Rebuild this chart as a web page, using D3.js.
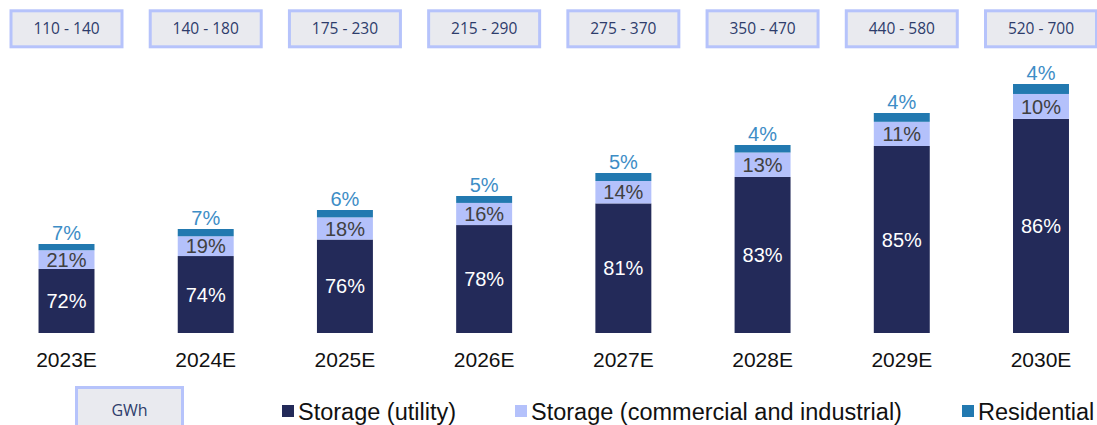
<!DOCTYPE html>
<html>
<head>
<meta charset="utf-8">
<script src="https://cdn.jsdelivr.net/npm/d3@7"></script>
<style>
  html, body { margin: 0; padding: 0; background: #fff; }
  svg { display: block; }
</style>
</head>
<body>
<svg id="chart" width="1097" height="425"></svg>
<script>
// ---- data ----
const years = ["2023E", "2024E", "2025E", "2026E", "2027E", "2028E", "2029E", "2030E"];
const ranges = ["110 - 140", "140 - 180", "175 - 230", "215 - 290", "275 - 370", "350 - 470", "440 - 580", "520 - 700"];
// relative bar height (illustrative index)
const totals = [89, 104, 123, 137, 160, 188, 220, 249];
const utility = [72, 74, 76, 78, 81, 83, 85, 86];
const commercial = [21, 19, 18, 16, 14, 13, 11, 10];
const residential = [7, 7, 6, 5, 5, 4, 4, 4];
const seriesNames = ["Storage (utility)", "Storage (commercial and industrial)", "Residential"];
const unitLabel = "GWh";

// ---- style ----
const colors = ["#232A59", "#B4C1FB", "#2279B0"];
const labelColors = ["#FFFFFF", "#404040", "#3D8DC6"];
const font = "'Liberation Sans', Arial, sans-serif";
const boxFont = "'Open Sans', 'Noto Sans', sans-serif";

const svg = d3.select("#chart");

const x = d3.scaleBand().domain(years).range([-3.1, 1110.6]).paddingInner(0.598).paddingOuter(0.299);
const y = d3.scaleLinear().domain([0, 250]).range([333, 83]);

const rows = years.map((yr, i) => {
  const pcts = [utility[i], commercial[i], residential[i]];
  const sum = d3.sum(pcts);
  let acc = 0;
  const segs = pcts.map((p, k) => {
    const v0 = acc;
    acc += totals[i] * p / sum;
    return { k, p, v0, v1: acc };
  });
  return { yr, i, segs, total: totals[i] };
});

// bars
const g = svg.append("g");
rows.forEach(r => {
  r.segs.forEach(s => {
    g.append("rect")
      .attr("x", x(r.yr))
      .attr("width", x.bandwidth())
      .attr("y", y(s.v1))
      .attr("height", y(s.v0) - y(s.v1))
      .attr("fill", colors[s.k]);
  });
  const cx = x(r.yr) + x.bandwidth() / 2;
  [0, 1].forEach(k => {
    const s = r.segs[k];
    g.append("text")
      .attr("x", cx)
      .attr("y", (y(s.v0) + y(s.v1)) / 2)
      .attr("dy", "0.36em")
      .attr("text-anchor", "middle")
      .attr("font-family", font)
      .attr("font-size", 20)
      .attr("fill", labelColors[k])
      .text(s.p + "%");
  });
  const top = r.segs[2];
  g.append("text")
    .attr("x", cx)
    .attr("y", y(top.v1) - 4)
    .attr("text-anchor", "middle")
    .attr("font-family", font)
    .attr("font-size", 20)
    .attr("fill", labelColors[2])
    .text(top.p + "%");
});

// x axis labels
const xAxis = d3.axisBottom(x).tickSize(0).tickPadding(0);
const ax = svg.append("g").attr("transform", "translate(0,352)").call(xAxis);
ax.select(".domain").remove();
ax.selectAll("text")
  .attr("font-family", font)
  .attr("font-size", 21)
  .attr("fill", "#111")
  .attr("dy", "0.72em");

// range boxes on top
const boxW = 111, boxH = 36;
years.forEach((yr, i) => {
  const cx = x(yr) + x.bandwidth() / 2;
  svg.append("rect")
    .attr("x", cx - boxW / 2)
    .attr("y", 10.8)
    .attr("width", boxW)
    .attr("height", boxH)
    .attr("fill", "#E9EAEF")
    .attr("stroke", "#B6C3FB")
    .attr("stroke-width", 3);
  svg.append("text")
    .attr("x", cx)
    .attr("y", 29)
    .attr("dy", "0.35em")
    .attr("text-anchor", "middle")
    .attr("font-family", boxFont)
    .attr("font-size", 15.5)
    .attr("fill", "#2D3C6B")
    .text(ranges[i]);
});

// unit box
svg.append("rect")
  .attr("x", 76.5).attr("y", 387.5)
  .attr("width", 106).attr("height", 40)
  .attr("fill", "#E9EAEF")
  .attr("stroke", "#B6C3FB")
  .attr("stroke-width", 3);
svg.append("text")
  .attr("x", 129.5).attr("y", 410)
  .attr("dy", "0.35em")
  .attr("text-anchor", "middle")
  .attr("font-family", boxFont)
  .attr("font-size", 16)
  .attr("fill", "#2D3C6B")
  .text(unitLabel);

// legend
const legendX = [282, 515, 962];
seriesNames.forEach((name, k) => {
  const lg = svg.append("g").attr("transform", `translate(${legendX[k]},0)`);
  lg.append("rect").attr("x", 0).attr("y", 405).attr("width", 12).attr("height", 12).attr("fill", colors[k]);
  lg.append("text")
    .attr("x", 16).attr("y", 419.5)
    .attr("font-family", font)
    .attr("font-size", 23.5)
    .attr("fill", "#111")
    .text(name);
});
</script>
</body>
</html>
